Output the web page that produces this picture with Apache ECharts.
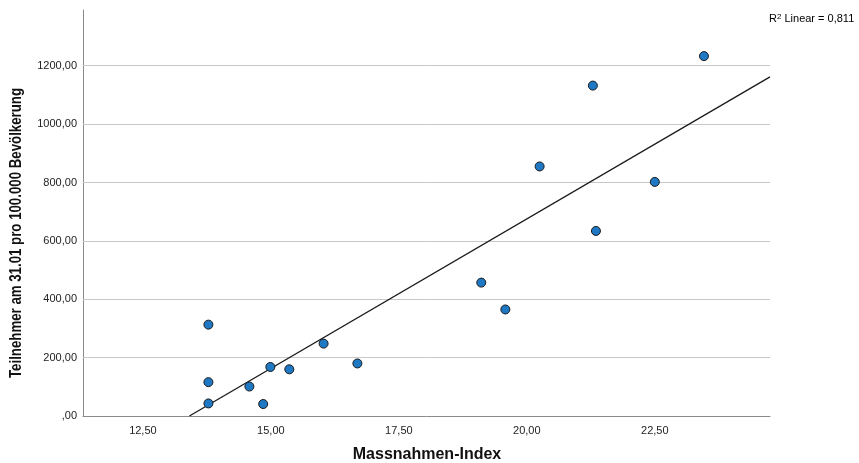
<!DOCTYPE html>
<html>
<head>
<meta charset="utf-8">
<script src="https://cdn.jsdelivr.net/npm/echarts@6/dist/echarts.min.js"></script>
<style>html,body{margin:0;padding:0;background:#fff}#c{width:859px;height:463px}</style>
</head>
<body>
<div id="c"></div>
<script>
// Data
const massnahmenIndex = [13.78, 13.78, 13.78, 14.58, 14.85, 14.99, 15.36, 16.03, 16.69, 19.11, 19.58, 20.25, 21.29, 21.35, 22.50, 23.46];
const teilnehmer =      [313,   116,   43,    101,   41,    168,   160,   248,   180,   457,   365,   855,   1132,  634,   802,   1233];
const xTickValues = [12.5, 15, 17.5, 20, 22.5];
const yTickValues = [0, 200, 400, 600, 800, 1000, 1200];
const xTitle = 'Massnahmen-Index';
const yTitle = 'Teilnehmer am 31.01 pro 100.000 Bevölkerung';

const xMin = 11.33, xMax = 24.75, yMin = 0, yMax = 1391;

// least squares fit
const n = massnahmenIndex.length;
const mx = massnahmenIndex.reduce((a, b) => a + b, 0) / n;
const my = teilnehmer.reduce((a, b) => a + b, 0) / n;
let sxx = 0, sxy = 0, syy = 0;
for (let i = 0; i < n; i++) {
  const dx = massnahmenIndex[i] - mx, dy = teilnehmer[i] - my;
  sxx += dx * dx; sxy += dx * dy; syy += dy * dy;
}
const slope = sxy / sxx, intercept = my - slope * mx;
const r2 = (sxy * sxy) / (sxx * syy);
const xStart = Math.max(xMin, (yMin - intercept) / slope);
const fitLine = [[xStart, intercept + slope * xStart], [xMax, intercept + slope * xMax]];

const fmt = v => {
  const s = v.toFixed(2).replace('.', ',');
  return s.startsWith('0,') ? s.slice(1) : s;
};

// condense the y title to the reference's length
const yFont = 'bold 16px "Liberation Sans", Arial, sans-serif';
const cv = document.createElement('canvas').getContext('2d');
cv.font = yFont;
const yTitleScale = 290 / cv.measureText(yTitle).width;

const chart = echarts.init(document.getElementById('c'), null, { renderer: 'canvas' });
chart.setOption({
  animation: false,
  backgroundColor: '#ffffff',
  grid: { left: 83, top: 10, right: 89, bottom: 47, containLabel: false },
  xAxis: {
    type: 'value', min: xMin, max: xMax,
    axisLine: { show: true, lineStyle: { color: '#8a8a8a', width: 1 } },
    axisTick: { show: false },
    splitLine: { show: false },
    axisLabel: {
      customValues: xTickValues,
      formatter: v => fmt(v),
      color: '#222', fontSize: 11, fontFamily: 'Liberation Sans, Arial', margin: 9
    }
  },
  yAxis: {
    type: 'value', min: yMin, max: yMax,
    axisLine: { show: true, lineStyle: { color: '#8a8a8a', width: 1 } },
    axisTick: { show: false },
    splitLine: { show: false },
    axisLabel: {
      customValues: yTickValues,
      formatter: v => fmt(v),
      color: '#222', fontSize: 11, fontFamily: 'Liberation Sans, Arial', margin: 6
    }
  },
  series: [
    {
      type: 'line',
      data: [],
      z: 1,
      markLine: {
        silent: true, symbol: 'none', label: { show: false }, z: 1,
        lineStyle: { color: '#c8c8c8', width: 1, type: 'solid' },
        data: yTickValues.filter(v => v > 0).map(v => ({ yAxis: v }))
      }
    },
    {
      type: 'line',
      data: fitLine,
      symbol: 'none',
      lineStyle: { color: '#1a1a1a', width: 1.3 },
      z: 3
    },
    {
      type: 'scatter',
      data: massnahmenIndex.map((x, i) => [x, teilnehmer[i]]),
      symbol: 'circle', symbolSize: 9,
      itemStyle: { color: '#1f78c4', borderColor: '#1a1a1a', borderWidth: 1, opacity: 1 },
      z: 4
    }
  ],
  graphic: [
    {
      type: 'text', x: 17, y: 233, rotation: Math.PI / 2, scaleX: yTitleScale, scaleY: 1,
      style: {
        text: yTitle, textAlign: 'center', textVerticalAlign: 'middle',
        font: yFont, fill: '#111'
      }
    },
    {
      type: 'text', x: 427, y: 455,
      style: {
        text: xTitle, textAlign: 'center', textVerticalAlign: 'middle',
        font: 'bold 16px "Liberation Sans", Arial, sans-serif', fill: '#111'
      }
    },
    {
      type: 'text', x: 769, y: 19,
      style: {
        text: '{a|R}{s|2}{a| Linear = ' + r2.toFixed(3).replace('.', ',') + '}',
        textVerticalAlign: 'middle',
        rich: {
          a: { fontSize: 11, fontFamily: 'Liberation Sans, Arial', color: '#222' },
          s: { fontSize: 8, fontFamily: 'Liberation Sans, Arial', color: '#222', verticalAlign: 'top', padding: [0, 0, 5, 0] }
        }
      }
    }
  ]
});
</script>
</body>
</html>
